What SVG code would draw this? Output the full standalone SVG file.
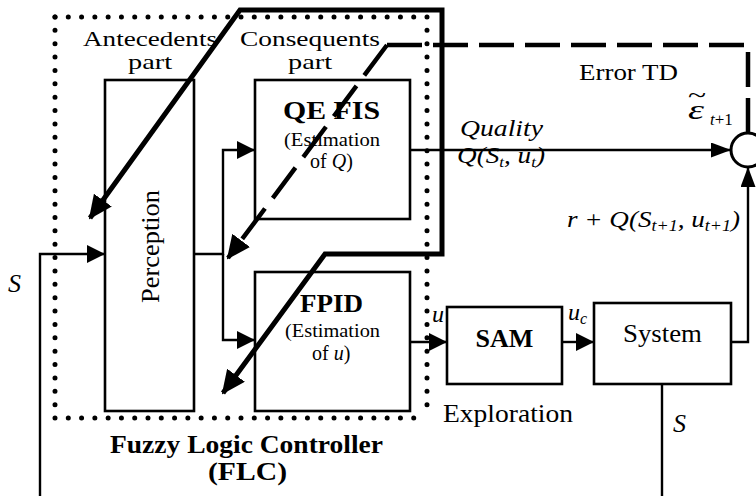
<svg xmlns="http://www.w3.org/2000/svg" width="756" height="496" viewBox="0 0 756 496">
<style>
text{font-family:"Liberation Serif","Times New Roman",serif;fill:#000}
.b{font-weight:bold}
.i{font-style:italic}
.box{fill:none;stroke:#000;stroke-width:2.6}
.thin{fill:none;stroke:#000;stroke-width:2.4}
.thick{fill:none;stroke:#000;stroke-width:5;stroke-linejoin:miter}
.dash{fill:none;stroke:#000;stroke-width:4.5}
.dot{fill:none;stroke:#000;stroke-width:5;stroke-linecap:round}
</style>
<defs>
<marker id="a" markerUnits="userSpaceOnUse" markerWidth="19" markerHeight="18" refX="18" refY="9" orient="auto"><path d="M0,0 L18,9 L0,18 z" fill="#000"/></marker>
<marker id="as" markerUnits="userSpaceOnUse" markerWidth="21" markerHeight="15" refX="20" refY="7.5" orient="auto"><path d="M0,0 L20,7.5 L0,15 z" fill="#000"/></marker>
<marker id="ab" markerUnits="userSpaceOnUse" markerWidth="24" markerHeight="22" refX="22" refY="11" orient="auto-start-reverse"><path d="M0,0 L24,11 L0,22 z" fill="#000"/></marker>
</defs>
<rect width="756" height="496" fill="#fff"/>

<g id="flc">
<path class="dot" d="M55,17 H427" stroke-dasharray="0 13.286"/>
<path class="dot" d="M55,418 H427" stroke-dasharray="0 13.286"/>
<path class="dot" d="M55,17 V418" stroke-dasharray="0 13.367"/>
<path class="dot" d="M427,17 V418" stroke-dasharray="0 13.367"/>
<text x="83" y="46" font-size="22" textLength="134" lengthAdjust="spacingAndGlyphs">Antecedents</text>
<text x="128" y="69" font-size="22" textLength="44" lengthAdjust="spacingAndGlyphs">part</text>
<text x="240" y="46" font-size="22" textLength="140" lengthAdjust="spacingAndGlyphs">Consequents</text>
<text x="288" y="69" font-size="22" textLength="44" lengthAdjust="spacingAndGlyphs">part</text>
<text class="b" x="110" y="453" font-size="25" textLength="273" lengthAdjust="spacingAndGlyphs">Fuzzy Logic Controller</text>
<text class="b" x="208" y="480" font-size="25" textLength="79" lengthAdjust="spacingAndGlyphs">(FLC)</text>
</g>

<g id="perception">
<rect class="box" x="105" y="80" width="89" height="331"/>
<text transform="translate(159,246.5) rotate(-90)" x="0" y="0" font-size="26" text-anchor="middle" textLength="113" lengthAdjust="spacingAndGlyphs">Perception</text>
</g>

<g id="qefis">
<rect class="box" x="255" y="80" width="155" height="139"/>
<text class="b" x="283" y="119" font-size="25" textLength="97" lengthAdjust="spacingAndGlyphs">QE FIS</text>
<text x="284" y="146" font-size="19" textLength="96" lengthAdjust="spacingAndGlyphs">(Estimation</text>
<text x="310" y="168" font-size="20">of <tspan class="i">Q</tspan>)</text>
</g>

<g id="fpid">
<rect class="box" x="255" y="272" width="155" height="139"/>
<text class="b" x="300" y="312" font-size="25" textLength="63" lengthAdjust="spacingAndGlyphs">FPID</text>
<text x="285" y="337" font-size="19" textLength="95" lengthAdjust="spacingAndGlyphs">(Estimation</text>
<text x="312" y="360" font-size="20">of <tspan class="i">u</tspan>)</text>
</g>

<g id="sam">
<rect class="box" x="447" y="307" width="115" height="77"/>
<text class="b" x="504.5" y="347" font-size="26" text-anchor="middle">SAM</text>
</g>

<g id="system">
<rect class="box" x="594" y="303" width="137" height="81"/>
<text x="662.5" y="342" font-size="26" text-anchor="middle" textLength="79" lengthAdjust="spacingAndGlyphs">System</text>
</g>

<g id="sum">
<circle cx="748" cy="150" r="17" fill="#fff" stroke="#000" stroke-width="3"/>
</g>

<g id="connectors">
<path class="thin" d="M662,384 V500 H40 V254 H105" marker-end="url(#a)"/>
<path class="thin" d="M194,254 H223 V150 H255" marker-end="url(#a)"/>
<path class="thin" d="M223,254 V340 H255" marker-end="url(#a)"/>
<path class="thin" d="M410,150 H731" marker-end="url(#as)"/>
<path class="thin" d="M410,342 H447" marker-end="url(#a)"/>
<path class="thin" d="M562,342 H594" marker-end="url(#a)"/>
<path class="thin" d="M731,342 H748 V167" marker-end="url(#as)"/>
<path class="dash" d="M748,133 V45 H387" stroke-dasharray="35 11"/>
<path class="dash" d="M387,45 L228,258" stroke-dasharray="38 13" marker-end="url(#ab)"/>
<path class="thick" d="M223,393 L325,254 H442 V10 H240 L90,218" marker-start="url(#ab)" marker-end="url(#ab)"/>
<text class="i" x="460" y="136" font-size="24" textLength="83" lengthAdjust="spacingAndGlyphs">Quality</text>
<text class="i" x="457" y="163" font-size="24" textLength="88" lengthAdjust="spacingAndGlyphs">Q(S<tspan font-size="15" dy="4">t</tspan><tspan dy="-4">, u</tspan><tspan font-size="15" dy="4">t</tspan><tspan dy="-4">)</tspan></text>
<text class="i" transform="translate(688,119) scale(1.45,1)" font-size="28">ε<tspan font-style="normal" font-size="23" dx="-11" dy="-16">~</tspan></text>
<text x="710" y="125" font-size="17"><tspan class="i">t</tspan>+1</text>
<text x="579" y="80" font-size="24" textLength="99" lengthAdjust="spacingAndGlyphs">Error TD</text>
<text class="i" x="567" y="227" font-size="24" textLength="173" lengthAdjust="spacingAndGlyphs">r + Q(S<tspan font-size="16" dy="4">t+1</tspan><tspan dy="-4">, u</tspan><tspan font-size="16" dy="4">t+1</tspan><tspan dy="-4">)</tspan></text>
<text class="i" x="8" y="292" font-size="26">S</text>
<text class="i" x="432" y="322" font-size="24">u</text>
<text class="i" x="568" y="320" font-size="24">u<tspan font-size="16" dy="4">c</tspan></text>
<text x="443" y="422" font-size="26" textLength="130" lengthAdjust="spacingAndGlyphs">Exploration</text>
<text class="i" x="673" y="432" font-size="26">S</text>
</g>
</svg>
